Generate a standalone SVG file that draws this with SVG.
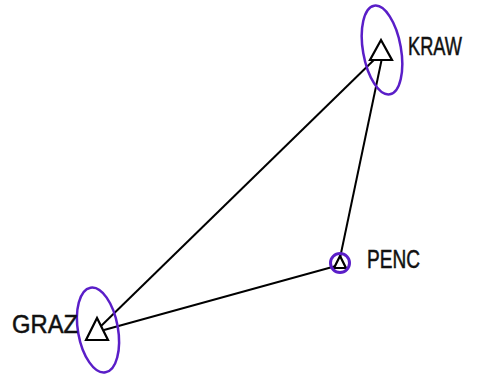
<svg xmlns="http://www.w3.org/2000/svg" width="487" height="378" viewBox="0 0 487 378">
<style>
.edge{stroke:#000;stroke-width:2;fill:none}
.tri{stroke:#000;stroke-width:2.2;fill:#fff}
.ell{stroke:#5a1ec8;stroke-width:2.5;fill:none}
.lbl{font-family:"Liberation Sans",Arial,sans-serif;font-size:25px;fill:#111;stroke:#111;stroke-width:0.5}
</style>
<rect width="487" height="378" fill="#fff"/>
<g id="connectors">
<line class="edge" x1="99" y1="328" x2="379" y2="55"/>
<line class="edge" x1="104" y1="330" x2="336" y2="266"/>
<line class="edge" x1="340" y1="258" x2="382" y2="58"/>
</g>
<g id="KRAW">
<polygon class="tri" points="381,40 370,60 392,60"/>
<ellipse class="ell" cx="382" cy="50" rx="19" ry="45" transform="rotate(-10 382 50)"/>
<text class="lbl" x="408" y="55" textLength="54" lengthAdjust="spacingAndGlyphs">KRAW</text>
</g>
<g id="PENC">
<polygon class="tri" points="340,256 334,268 346,268"/>
<circle class="ell" cx="340" cy="263" r="9.5" style="stroke-width:3"/>
<text class="lbl" x="367" y="268" textLength="53" lengthAdjust="spacingAndGlyphs">PENC</text>
</g>
<g id="GRAZ">
<polygon class="tri" points="97,318 86,340 108,340"/>
<ellipse class="ell" cx="98" cy="330" rx="20" ry="43" transform="rotate(-10 98 330)"/>
<text class="lbl" x="12" y="333" textLength="66" lengthAdjust="spacingAndGlyphs">GRAZ</text>
</g>
</svg>
